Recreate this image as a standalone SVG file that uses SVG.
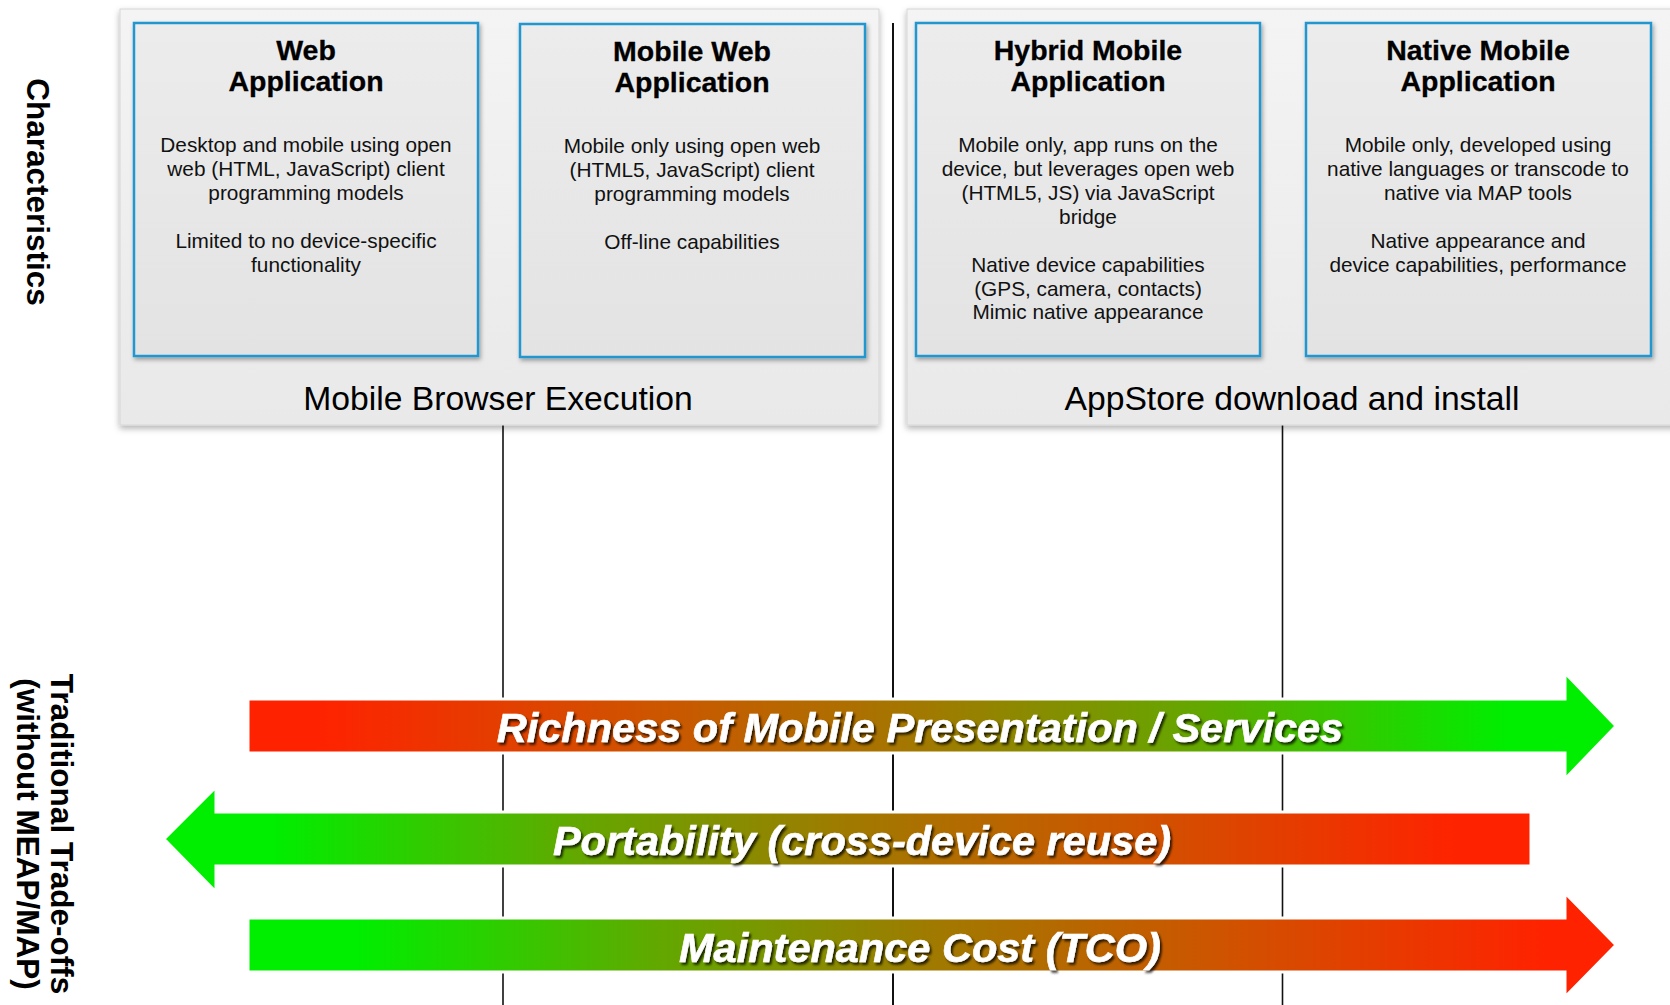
<svg xmlns="http://www.w3.org/2000/svg" width="1670" height="1005" viewBox="0 0 1670 1005">
  <defs>
    <style>
      .panel { fill: url(#panelFill); stroke: #d6d6d6; stroke-width: 1; filter: url(#panelShadow); }
      .box { fill: url(#boxFill); stroke: #2196cf; stroke-width: 2.5; filter: url(#boxShadow); }
      .title { font-family: "Liberation Sans", Arial, sans-serif; font-weight: bold; font-size: 28.5px; fill: #000; text-anchor: middle; stroke: #000; stroke-width: 0.3; }
      .body { font-family: "Liberation Sans", Arial, sans-serif; font-size: 20.8px; fill: #111; text-anchor: middle; }
      .plabel { font-family: "Liberation Sans", Arial, sans-serif; font-size: 33.7px; fill: #000; text-anchor: middle; }
      .side { font-family: "Liberation Sans", Arial, sans-serif; font-weight: bold; font-size: 31.5px; fill: #000; text-anchor: middle; }
      .arrow { stroke: #ffffff; stroke-width: 3; stroke-linejoin: miter; }
      .atext { font-family: "Liberation Sans", Arial, sans-serif; font-weight: bold; font-style: italic; font-size: 41.5px; fill: #ffffff; stroke: #ffffff; stroke-width: 0.6; text-anchor: middle; filter: url(#textShadow); }
      .vline { stroke: #111; fill: none; }
    </style>
    <linearGradient id="panelFill" x1="0" y1="0" x2="0" y2="1">
      <stop offset="0" stop-color="#f4f4f4"/>
      <stop offset="1" stop-color="#e9e9e9"/>
    </linearGradient>
    <linearGradient id="boxFill" x1="0" y1="0" x2="0" y2="1">
      <stop offset="0" stop-color="#ececec"/>
      <stop offset="1" stop-color="#e3e3e3"/>
    </linearGradient>
    <linearGradient id="redToGreen" x1="0" y1="0" x2="1" y2="0">
      <stop offset="0" stop-color="#ff2200"/>
      <stop offset="0.05" stop-color="#ff2200"/>
      <stop offset="0.3" stop-color="#cc5600"/>
      <stop offset="0.5" stop-color="#a07a00"/>
      <stop offset="0.7" stop-color="#62a800"/>
      <stop offset="0.92" stop-color="#00ee00"/>
      <stop offset="1" stop-color="#00ee00"/>
    </linearGradient>
    <linearGradient id="greenToRed" x1="0" y1="0" x2="1" y2="0">
      <stop offset="0" stop-color="#00ee00"/>
      <stop offset="0.08" stop-color="#00ee00"/>
      <stop offset="0.3" stop-color="#62a800"/>
      <stop offset="0.5" stop-color="#a07a00"/>
      <stop offset="0.7" stop-color="#cc5600"/>
      <stop offset="0.95" stop-color="#ff2200"/>
      <stop offset="1" stop-color="#ff2200"/>
    </linearGradient>
    <filter id="panelShadow" x="-5%" y="-5%" width="110%" height="115%">
      <feDropShadow dx="0" dy="3" stdDeviation="3" flood-color="#000" flood-opacity="0.3"/>
    </filter>
    <filter id="boxShadow" x="-5%" y="-5%" width="110%" height="115%">
      <feDropShadow dx="1.5" dy="2.5" stdDeviation="2" flood-color="#000" flood-opacity="0.35"/>
    </filter>
    <filter id="textShadow" x="-5%" y="-20%" width="110%" height="150%">
      <feDropShadow dx="2" dy="2.5" stdDeviation="1.2" flood-color="#000" flood-opacity="0.75"/>
    </filter>
  </defs>

  <rect width="1670" height="1005" fill="#ffffff"/>

  <!-- dividing lines behind the trade-off arrows -->
  <g id="connectors">
    <line class="vline" x1="503" y1="425" x2="503" y2="1005" stroke-width="1.6"/>
    <line class="vline" x1="893" y1="23" x2="893" y2="1005" stroke-width="2"/>
    <line class="vline" x1="1282.5" y1="425" x2="1282.5" y2="1005" stroke-width="1.6"/>
  </g>

  <!-- execution panels -->
  <g id="panel-browser">
    <rect class="panel" x="120" y="9" width="759" height="416"/>
    <text class="plabel" x="498" y="410">Mobile Browser Execution</text>
  </g>
  <g id="panel-appstore">
    <rect class="panel" x="907" y="9" width="775" height="416"/>
    <text class="plabel" x="1292" y="410">AppStore download and install</text>
  </g>

  <!-- application types -->
  <g id="web-app">
    <rect class="box" x="134" y="23" width="344" height="333"/>
    <text class="title" x="306" y="60">Web</text>
    <text class="title" x="306" y="91">Application</text>
    <text class="body" x="306" y="152">Desktop and mobile using open</text>
    <text class="body" x="306" y="176">web (HTML, JavaScript) client</text>
    <text class="body" x="306" y="200">programming models</text>
    <text class="body" x="306" y="248">Limited to no device-specific</text>
    <text class="body" x="306" y="272">functionality</text>
  </g>
  <g id="mobile-web-app">
    <rect class="box" x="520" y="24" width="345" height="333"/>
    <text class="title" x="692" y="61">Mobile Web</text>
    <text class="title" x="692" y="92">Application</text>
    <text class="body" x="692" y="153">Mobile only using open web</text>
    <text class="body" x="692" y="177">(HTML5, JavaScript) client</text>
    <text class="body" x="692" y="201">programming models</text>
    <text class="body" x="692" y="249">Off-line capabilities</text>
  </g>
  <g id="hybrid-app">
    <rect class="box" x="916" y="23" width="344" height="333"/>
    <text class="title" x="1088" y="60">Hybrid Mobile</text>
    <text class="title" x="1088" y="91">Application</text>
    <text class="body" x="1088" y="152">Mobile only, app runs on the</text>
    <text class="body" x="1088" y="176">device, but leverages open web</text>
    <text class="body" x="1088" y="200">(HTML5, JS) via JavaScript</text>
    <text class="body" x="1088" y="224">bridge</text>
    <text class="body" x="1088" y="272">Native device capabilities</text>
    <text class="body" x="1088" y="296">(GPS, camera, contacts)</text>
    <text class="body" x="1088" y="319">Mimic native appearance</text>
  </g>
  <g id="native-app">
    <rect class="box" x="1306" y="23" width="345" height="333"/>
    <text class="title" x="1478" y="60">Native Mobile</text>
    <text class="title" x="1478" y="91">Application</text>
    <text class="body" x="1478" y="152">Mobile only, developed using</text>
    <text class="body" x="1478" y="176">native languages or transcode to</text>
    <text class="body" x="1478" y="200">native via MAP tools</text>
    <text class="body" x="1478" y="248">Native appearance and</text>
    <text class="body" x="1478" y="272">device capabilities, performance</text>
  </g>

  <!-- row headings -->
  <g id="label-characteristics">
    <text class="side" transform="translate(27,192) rotate(90)" x="0" y="0">Characteristics</text>
  </g>
  <g id="label-tradeoffs">
    <text class="side" transform="translate(51,834) rotate(90)" x="0" y="0">Traditional Trade-offs</text>
    <text class="side" transform="translate(17,834) rotate(90)" x="0" y="0">(without MEAP/MAP)</text>
  </g>

  <!-- trade-off arrows -->
  <g id="arrow-richness">
    <polygon class="arrow" fill="url(#redToGreen)" points="248,699 1565,699 1565,673 1616,726 1565,779 1565,753 248,753"/>
    <text class="atext" x="920" y="742">Richness of Mobile Presentation / Services</text>
  </g>
  <g id="arrow-portability">
    <polygon class="arrow" fill="url(#greenToRed)" points="1531,812 216,812 216,787 164,839 216,892 216,866 1531,866"/>
    <text class="atext" x="862" y="855">Portability (cross-device reuse)</text>
  </g>
  <g id="arrow-maintenance">
    <polygon class="arrow" fill="url(#greenToRed)" points="248,918 1565,918 1565,893 1616,945 1565,997 1565,972 248,972"/>
    <text class="atext" x="920" y="962">Maintenance Cost (TCO)</text>
  </g>
</svg>
